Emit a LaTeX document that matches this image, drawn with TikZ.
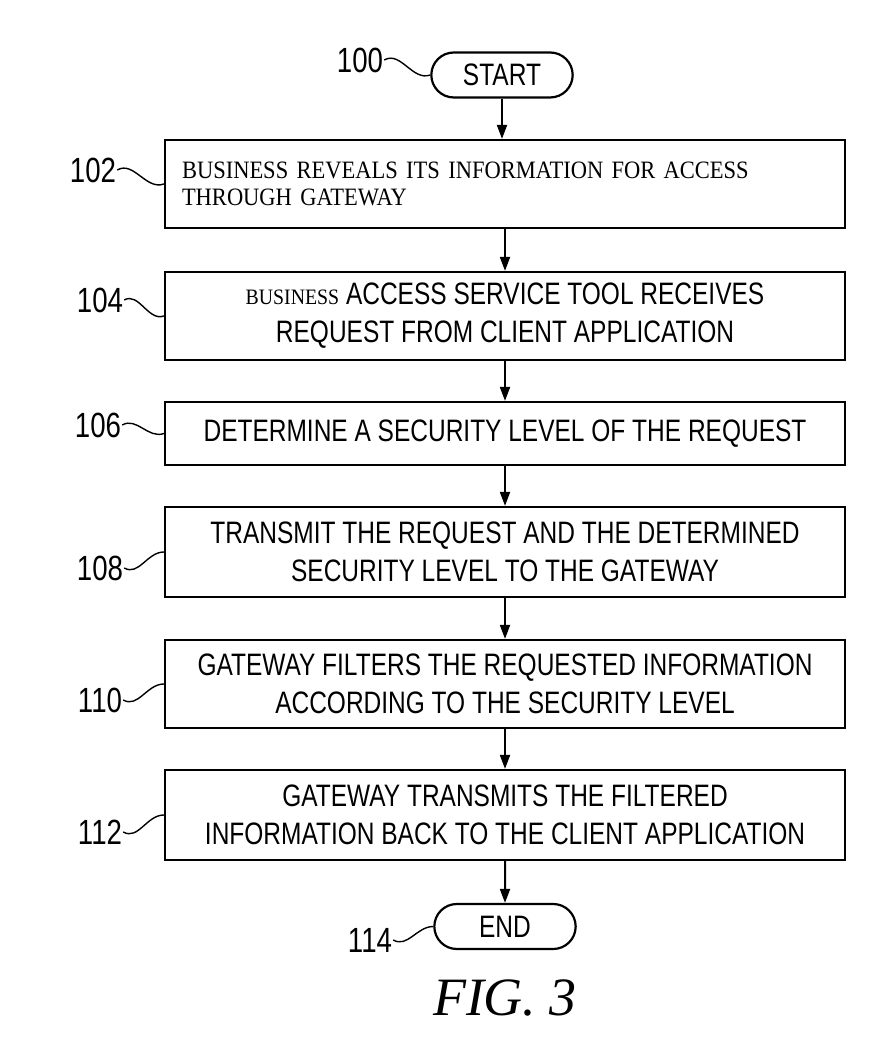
\documentclass[tikz,border=0pt]{standalone}
\usepackage{fontspec}
\setmainfont{Liberation Serif}
\newfontfamily\condsans[FakeStretch=0.79]{Liberation Sans}
\newfontfamily\condserif[FakeStretch=0.9]{Liberation Serif}
\usetikzlibrary{arrows.meta,shapes.misc}

\begin{document}
\begin{tikzpicture}[x=1pt,y=1pt,
    procbox/.style={draw, line width=2.2pt, minimum width=680pt, minimum height=88pt,
      inner sep=0pt, align=center, font=\condsans\fontsize{31}{38}\selectfont},
    termbox/.style={draw, line width=2.2pt, rounded rectangle, minimum width=148pt,
      minimum height=45pt, font=\condsans\fontsize{31}{36}\selectfont},
    reflabel/.style={inner sep=1pt, font=\condsans\fontsize{35}{40}\selectfont},
    flow/.style={line width=2pt, -{Triangle[length=14pt,width=10pt]}},
    squig/.style={line width=1.4pt}]
    \useasboundingbox (0,0) rectangle (889,1047);
    % steps
    \node[termbox] (start) at (502,972) {START};
    \node[procbox, text width=646pt, align=left,
      font=\condserif\fontsize{25}{27}\selectfont] (b102) at (505,863)
      {BUSINESS REVEALS ITS INFORMATION FOR ACCESS\\THROUGH GATEWAY};
    \node[procbox] (b104) at (505,731)
      {{\condserif\fontsize{22}{27}\selectfont BUSINESS} ACCESS SERVICE TOOL RECEIVES\\REQUEST FROM CLIENT APPLICATION};
    \node[procbox, minimum height=63pt] (b106) at (505,613.5)
      {DETERMINE A SECURITY LEVEL OF THE REQUEST};
    \node[procbox, minimum height=90pt] (b108) at (505,495)
      {TRANSMIT THE REQUEST AND THE DETERMINED\\SECURITY LEVEL TO THE GATEWAY};
    \node[procbox] (b110) at (505,363)
      {GATEWAY FILTERS THE REQUESTED INFORMATION\\ACCORDING TO THE SECURITY LEVEL};
    \node[procbox, minimum height=90pt] (b112) at (505,232)
      {GATEWAY TRANSMITS THE FILTERED\\INFORMATION BACK TO THE CLIENT APPLICATION};
    \node[termbox] (end) at (505,120.5) {END};
    \node[font=\itshape\fontsize{54}{60}\selectfont] (fig) at (505,49) {FIG. 3};
    % reference numerals
    \node[reflabel] (l100) at (360,987) {100};
    \node[reflabel] (l102) at (93,877) {102};
    \node[reflabel] (l104) at (100,747) {104};
    \node[reflabel] (l106) at (98,622) {106};
    \node[reflabel] (l108) at (100,479) {108};
    \node[reflabel] (l110) at (100,347) {110};
    \node[reflabel] (l112) at (100,215) {112};
    \node[reflabel] (l114) at (370,107) {114};
    \draw[squig] (l100.east) to[out=30,in=200] (start.west);
    \draw[squig] (l102.east) to[out=30,in=200] (b102.west);
    \draw[squig] (l104.east) to[out=30,in=200] (b104.west);
    \draw[squig] (l106.east) to[out=30,in=200] (b106.west);
    \draw[squig] (l108.east) to[out=-30,in=180] (b108.west);
    \draw[squig] (l110.east) to[out=-30,in=180] (b110.west);
    \draw[squig] (l112.east) to[out=-30,in=180] (b112.west);
    \draw[squig] (l114.east) to[out=-30,in=180] (end.west);
    % arrows
    \draw[flow] (start.south) -- (start.south |- b102.north);
    \draw[flow] (b102) -- (b104);
    \draw[flow] (b104) -- (b106);
    \draw[flow] (b106) -- (b108);
    \draw[flow] (b108) -- (b110);
    \draw[flow] (b110) -- (b112);
    \draw[flow] (b112) -- (end);
\end{tikzpicture}
\end{document}
